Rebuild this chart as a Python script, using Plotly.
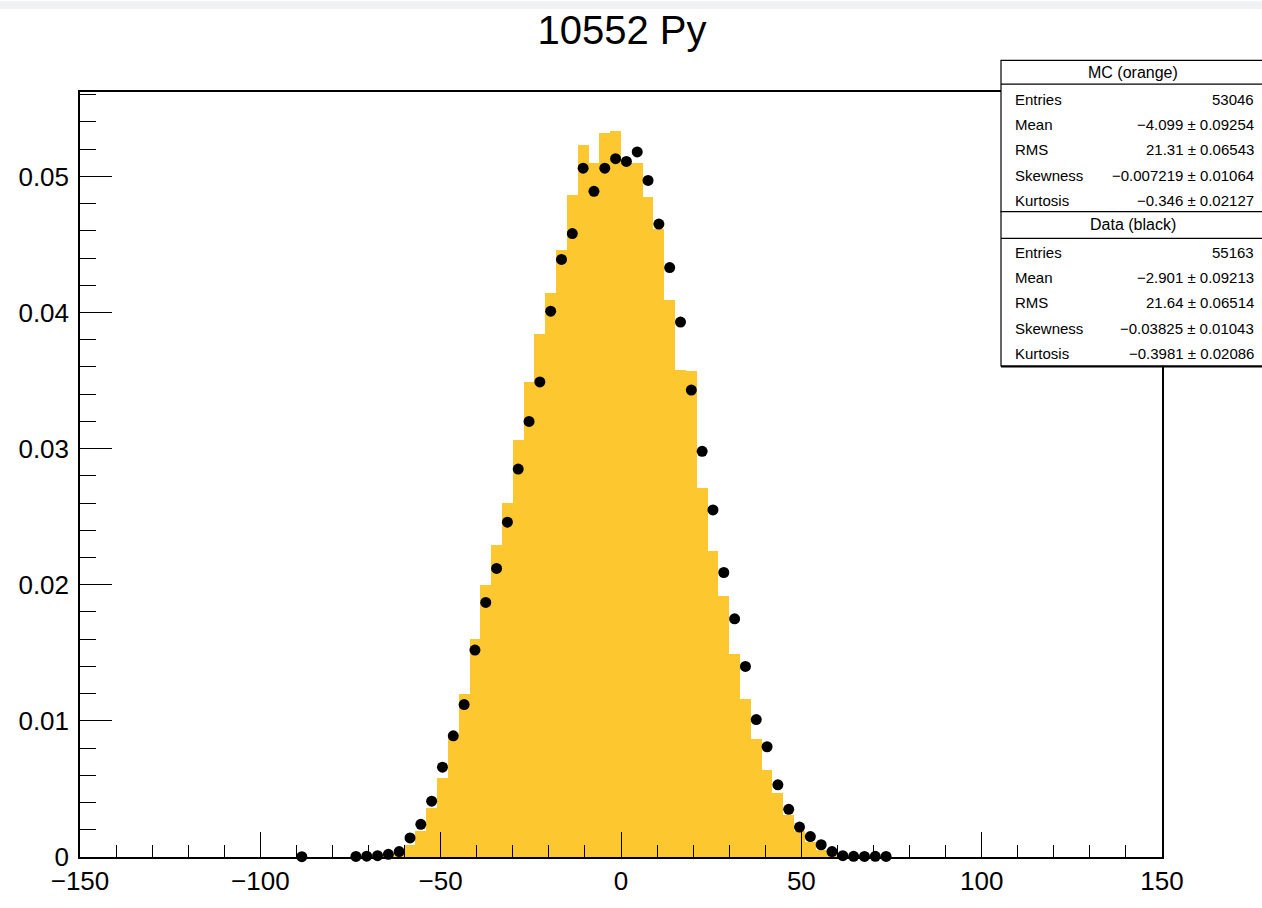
import plotly.graph_objects as go

# ---------------- data ----------------
mc_x = [-64.5, -61.5, -58.5, -55.5, -52.5, -49.5, -46.5, -43.5, -40.5, -37.5,
        -34.5, -31.5, -28.5, -25.5, -22.5, -19.5, -16.5, -13.5, -10.5, -7.5,
        -4.5, -1.5, 1.5, 4.5, 7.5, 10.5, 13.5, 16.5, 19.5, 22.5,
        25.5, 28.5, 31.5, 34.5, 37.5, 40.5, 43.5, 46.5, 49.5, 52.5,
        55.5, 58.5, 61.5]
mc_y = [0.0001, 0.0003, 0.0009, 0.0019, 0.0036, 0.0058, 0.0088, 0.0120, 0.0160, 0.0200,
        0.0229, 0.0260, 0.0306, 0.0349, 0.0384, 0.0414, 0.0446, 0.0486, 0.0523, 0.0510,
        0.0532, 0.0533, 0.0510, 0.0510, 0.0485, 0.0461, 0.0409, 0.0358, 0.0357, 0.0271,
        0.0225, 0.0192, 0.0149, 0.0116, 0.0087, 0.0064, 0.0047, 0.0031, 0.0019, 0.0011,
        0.0005, 0.0002, 0.0001]

data_x = [-88.5, -73.5, -70.5, -67.5, -64.5, -61.5, -58.5, -55.5, -52.5, -49.5,
          -46.5, -43.5, -40.5, -37.5, -34.5, -31.5, -28.5, -25.5, -22.5, -19.5,
          -16.5, -13.5, -10.5, -7.5, -4.5, -1.5, 1.5, 4.5, 7.5, 10.5,
          13.5, 16.5, 19.5, 22.5, 25.5, 28.5, 31.5, 34.5, 37.5, 40.5,
          43.5, 46.5, 49.5, 52.5, 55.5, 58.5, 61.5, 64.5, 67.5, 70.5, 73.5]
data_y = [0.00002, 0.00004, 0.00006, 0.0001, 0.0002, 0.0004, 0.0014, 0.0024, 0.0041, 0.0066,
          0.0089, 0.0112, 0.0152, 0.0187, 0.0212, 0.0246, 0.0285, 0.0320, 0.0349, 0.0401,
          0.0439, 0.0458, 0.0506, 0.0489, 0.0506, 0.0513, 0.0511, 0.0518, 0.0497, 0.0465,
          0.0433, 0.0393, 0.0343, 0.0298, 0.0255, 0.0209, 0.0175, 0.0140, 0.0101, 0.0081,
          0.0053, 0.0035, 0.0022, 0.0015, 0.0009, 0.0004, 0.0001, 0.00005, 0.00004, 0.00005, 0.00004]

x_ticks = [-150, -100, -50, 0, 50, 100, 150]
y_ticks = [0, 0.01, 0.02, 0.03, 0.04, 0.05]
y_tick_text = ["0", "0.01", "0.02", "0.03", "0.04", "0.05"]

title_text = "10552 Py"
mc_title = "MC (orange)"
data_title = "Data (black)"
stat_names = ["Entries", "Mean", "RMS", "Skewness", "Kurtosis"]
mc_stats = ["53046", "\u22124.099 \u00b1 0.09254", "21.31 \u00b1 0.06543",
            "\u22120.007219 \u00b1 0.01064", "\u22120.346 \u00b1 0.02127"]
data_stats = ["55163", "\u22122.901 \u00b1 0.09213", "21.64 \u00b1 0.06514",
              "\u22120.03825 \u00b1 0.01043", "\u22120.3981 \u00b1 0.02086"]

# ---------------- layout geometry (pixels) ----------------
W, H = 1262, 908
L, R, T, B = 80, 1162, 92, 866
YELLOW = "rgb(253,200,47)"
FONT = "Liberation Sans, Arial, sans-serif"


def px2x(px):
    return (px - L) / (R - L)


def py2y(py):
    return (B - py) / (B - T)


fig = go.Figure()
fig.add_trace(go.Bar(x=mc_x, y=mc_y, width=3,
                     marker=dict(color=YELLOW, line=dict(width=0)),
                     showlegend=False))
fig.add_trace(go.Scatter(x=data_x, y=data_y, mode="markers",
                         marker=dict(color="black", size=11),
                         cliponaxis=False, showlegend=False))

axis_common = dict(showgrid=False, zeroline=False, showline=True, mirror=True,
                   linecolor="black", linewidth=1.5, ticks="inside",
                   tickcolor="black", tickwidth=1.2,
                   tickfont=dict(family=FONT, size=26, color="black"))

fig.update_layout(
    width=W, height=H,
    margin=dict(l=L, r=W - R, t=T, b=H - B, pad=0),
    paper_bgcolor="white", plot_bgcolor="white",
    bargap=0,
    title=dict(text=title_text, x=px2x(622) * (R - L) / W + L / W, xanchor="center",
               y=1 - 30 / H, yanchor="middle",
               font=dict(family=FONT, size=40, color="black")),
    xaxis=dict(range=[-150, 150], tickvals=x_ticks, ticklen=25,
               minor=dict(dtick=10, ticklen=12, ticks="inside", tickcolor="black", tickwidth=1.2),
               **axis_common),
    yaxis=dict(range=[0, 0.0562], tickvals=y_ticks, ticktext=y_tick_text, ticklen=32,
               ticklabelstandoff=4,
               minor=dict(dtick=0.002, ticklen=16, ticks="inside", tickcolor="black", tickwidth=1.2),
               **axis_common),
)

shapes = []
annotations = []

# light band at the very top of the page
shapes.append(dict(type="rect", xref="paper", yref="paper",
                   x0=px2x(0), x1=px2x(W), y0=py2y(8), y1=py2y(0),
                   fillcolor="#eef2f2", line=dict(width=0), layer="below"))

box_l, box_r = 1001, 1268


def stats_box(top, title_line, bottom, title, values, row_ys):
    shapes.append(dict(type="rect", xref="paper", yref="paper",
                       x0=px2x(box_l), x1=px2x(box_r), y0=py2y(bottom), y1=py2y(top),
                       fillcolor="white", line=dict(color="black", width=1.2), layer="above"))
    shapes.append(dict(type="line", xref="paper", yref="paper",
                       x0=px2x(box_l), x1=px2x(box_r), y0=py2y(title_line), y1=py2y(title_line),
                       line=dict(color="black", width=1.2)))
    shapes.append(dict(type="line", xref="paper", yref="paper",
                       x0=px2x(box_l), x1=px2x(box_r), y0=py2y(bottom + 1), y1=py2y(bottom + 1),
                       line=dict(color="black", width=1.5)))
    annotations.append(dict(text=title, xref="paper", yref="paper",
                            x=px2x(1133), y=py2y((top + title_line) / 2),
                            xanchor="center", yanchor="middle", showarrow=False,
                            font=dict(family=FONT, size=16, color="black")))
    for name, val, ry in zip(stat_names, values, row_ys):
        annotations.append(dict(text=name, xref="paper", yref="paper",
                                x=px2x(1013), y=py2y(ry), xanchor="left", yanchor="middle",
                                showarrow=False, font=dict(family=FONT, size=15, color="black")))
        annotations.append(dict(text=val, xref="paper", yref="paper",
                                x=px2x(1256), y=py2y(ry), xanchor="right", yanchor="middle",
                                showarrow=False, font=dict(family=FONT, size=15, color="black")))


stats_box(60, 84, 213, mc_title, mc_stats, [100, 125, 150, 176, 202])
stats_box(213, 240, 369, data_title, data_stats, [254, 280, 305, 331, 357])

fig.update_layout(shapes=shapes, annotations=annotations)
fig.write_html("out.html")
